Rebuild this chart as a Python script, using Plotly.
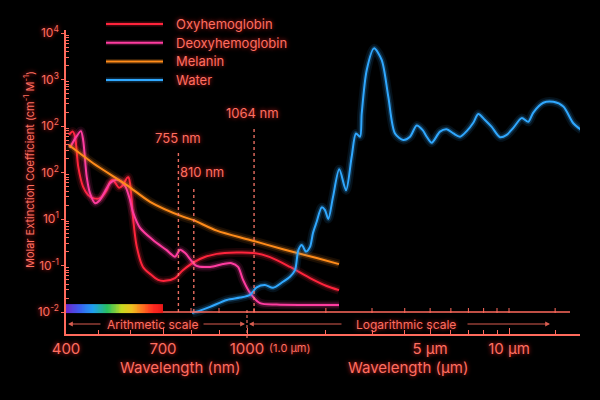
import numpy as np
import plotly.graph_objects as go

# ---------------- data (wavelength in nm, level = position on the decade axis) ----------------
OXY_WL = [409, 421, 428, 438, 453, 468, 484, 505, 526, 536, 545, 557, 564, 576, 588, 593, 598, 603, 607, 619,
          638, 660, 685, 707, 743, 771, 832, 892, 963, 1054, 1224, 1459, 1740, 2014, 2245]
OXY_LV = [3.81, 3.88, 3.77, 3.12, 2.69, 2.52, 2.45, 2.45, 2.62, 2.80, 2.84, 2.73, 2.67, 2.73, 2.88, 2.90, 2.77,
          2.41, 2.05, 1.40, 0.97, 0.82, 0.69, 0.67, 0.73, 0.90, 1.14, 1.25, 1.28, 1.27, 1.18, 0.97, 0.73, 0.56, 0.47]

DEOXY_WL = [412, 431, 446, 453, 464, 474, 490, 505, 521, 536, 552, 567, 583, 598, 607, 629, 669, 713, 743, 761,
            779, 820, 868, 914, 945, 968, 986, 1027, 1121, 1298, 1594, 2245]
DEOXY_LV = [3.53, 3.76, 3.89, 3.70, 2.91, 2.56, 2.34, 2.41, 2.60, 2.77, 2.84, 2.82, 2.71, 2.41, 2.15, 1.81, 1.55,
            1.33, 1.19, 1.34, 1.27, 0.99, 0.97, 1.03, 1.05, 0.97, 0.69, 0.41, 0.19, 0.16, 0.15, 0.15]

MEL_WL = [409, 484, 588, 660, 771, 807, 892, 1027, 1372, 1845, 2245]
MEL_LV = [3.59, 3.20, 2.73, 2.37, 2.05, 1.98, 1.75, 1.55, 1.35, 1.16, 1.03]

WAT_WL = [804, 832, 868, 928, 975, 1027, 1089, 1171, 1257, 1372, 1459, 1525, 1570, 1618, 1680, 1740, 1786, 1845,
          1928, 1985, 2043, 2129, 2250, 2387, 2509, 2606, 2700, 2741, 2863, 3052, 3266, 3462, 3672, 3950, 4190,
          4443, 4684, 4852, 5070, 5452, 5783, 6129, 6501, 6896, 7307, 7634, 8097, 8590, 9240, 9800, 10385, 11180,
          11850, 12380, 13520, 14760, 16120, 17600, 18950]
WAT_LV = [-0.02, 0.03, 0.11, 0.26, 0.31, 0.37, 0.53, 0.58, 0.52, 0.65, 0.76, 0.90, 1.33, 1.44, 1.30, 1.40, 1.70,
          1.94, 2.25, 2.19, 2.00, 2.47, 3.07, 2.62, 3.34, 3.84, 3.77, 4.27, 5.20, 5.67, 5.42, 4.63, 3.84, 3.70,
          3.77, 4.01, 3.91, 3.77, 3.64, 3.88, 3.93, 3.84, 3.77, 3.89, 4.07, 4.26, 4.13, 3.98, 3.76, 3.81, 3.96,
          4.17, 4.09, 4.29, 4.50, 4.52, 4.42, 4.06, 3.91]

SERIES = ["Oxyhemoglobin", "Deoxyhemoglobin", "Melanin", "Water"]
Y_TICK_LABELS = ["10<sup>-2</sup>", "10<sup>-1</sup>", "10<sup>1</sup>", "10<sup>2</sup>", "10<sup>2</sup>",
                 "10<sup>3</sup>", "10<sup>4</sup>"]
X_TICK_WL = [400, 700, 1000, 5000, 10000]
X_TICK_LABELS = ["400", "700", "1000", "5 µm", "10 µm"]
MARKERS_NM = [755, 810, 1064]
MARKER_TOPS = [3.46, 2.69, 3.98]

# ---------------- mixed arithmetic / logarithmic wavelength scale ----------------
def pos(wl):
    wl = np.asarray(wl, dtype=float)
    return np.where(wl <= 700, 66 + (wl - 400) * 97 / 300,
                    np.where(wl <= 1000, 163 + (wl - 700) * 84 / 300,
                             247 + 262 * np.log10(np.maximum(wl, 1) / 1000)))

X0, X1 = 66, 580
Y0, Y1 = -0.473, 6.065
PLOT_H = 304  # px

AX = "#ff6a5c"
TXT = "#ff6e60"
FONT = "Inter"
SHADOW = "0px 0px 4px rgba(255,40,40,0.85)"

COLORS = {"Oxyhemoglobin": (255, 36, 60), "Deoxyhemoglobin": (255, 60, 160),
          "Melanin": (255, 140, 26), "Water": (48, 168, 255)}
DATA = {"Oxyhemoglobin": (OXY_WL, OXY_LV), "Deoxyhemoglobin": (DEOXY_WL, DEOXY_LV),
        "Melanin": (MEL_WL, MEL_LV), "Water": (WAT_WL, WAT_LV)}
GLOW = [(9, 0.10), (5, 0.22)]

fig = go.Figure()

# spectrum strip 400-700 nm
strip_wl = np.linspace(400, 700, 61)
fig.add_trace(go.Heatmap(
    x=pos(strip_wl), y=[-0.02, 0.17], z=[0.5 * (strip_wl[:-1] + strip_wl[1:])],
    colorscale=[[0, "#6a2bd0"], [0.13, "#3b5ef0"], [0.27, "#1fa0f0"], [0.42, "#28c060"],
                [0.57, "#c8d820"], [0.68, "#f0c020"], [0.8, "#ff6a20"], [0.9, "#ff2a20"], [1, "#e81818"]],
    showscale=False, hoverinfo="skip", zsmooth="best"))

# curves with glow
for name in SERIES:
    wl, lv = DATA[name]
    r, g, b = COLORS[name]
    xs = pos(wl)
    for w, a in GLOW:
        fig.add_trace(go.Scatter(x=xs, y=lv, mode="lines", showlegend=False, hoverinfo="skip",
                                 line=dict(color=f"rgba({r},{g},{b},{a})", width=w, shape="spline", smoothing=0.8)))
    fig.add_trace(go.Scatter(x=xs, y=lv, mode="lines", name=name, showlegend=False,
                             line=dict(color=f"rgb({r},{g},{b})", width=2, shape="spline", smoothing=0.8)))

shapes = []
annotations = []

# legend (line samples + labels)
for i, name in enumerate(SERIES):
    r, g, b = COLORS[name]
    yp = (334 - (24 + 18.7 * i)) / PLOT_H
    for w, a in GLOW[1:] + [(2, 1.0)]:
        shapes.append(dict(type="line", xref="x", yref="paper", x0=106, x1=163, y0=yp, y1=yp,
                           line=dict(color=f"rgba({r},{g},{b},{a})", width=w)))
    annotations.append(dict(x=174, y=yp, xref="x", yref="paper", xanchor="left", yanchor="middle", text=name,
                            showarrow=False, font=dict(size=13, color=TXT, family=FONT, shadow=SHADOW)))

# baseline at the 10^-2 level (700 nm onward) with its ticks
base_lo = float(pos(700))
shapes.append(dict(type="line", xref="x", yref="y", x0=base_lo, x1=570, y0=0, y1=0,
                   line=dict(color=AX, width=1.3)))
for t in pos([800, 900, 1064] + [k * 1000 for k in range(2, 11)] + [15000]):
    shapes.append(dict(type="line", xref="x", yref="paper", x0=float(t), x1=float(t),
                       y0=(334 - 313) / PLOT_H, y1=(334 - 308) / PLOT_H, line=dict(color=AX, width=1)))

# laser marker lines
for nm, top in zip(MARKERS_NM, MARKER_TOPS):
    xp = float(pos(nm))
    shapes.append(dict(type="line", xref="x", yref="y", x0=xp, x1=xp, y0=0, y1=top,
                       line=dict(color="rgba(255,120,105,0.9)", width=1.4, dash="3px,3px")))
label_shift = {755: (0, 0.28), 810: (8, 0.32), 1064: (-2, 0.30)}
for nm, top in zip(MARKERS_NM, MARKER_TOPS):
    dx, dy = label_shift[nm]
    annotations.append(dict(x=float(pos(nm)), y=top + dy, xref="x", yref="y", text=f"{nm} nm",
                            showarrow=False, xshift=dx, font=dict(size=13, color=TXT, family=FONT, shadow=SHADOW)))

# separator between scales
sep = float(pos(1000))
shapes.append(dict(type="line", xref="x", yref="paper", x0=sep, x1=sep, y0=-0.013, y1=0.085,
                   line=dict(color="rgba(255,120,105,0.9)", width=1.2, dash="3px,2px")))

# scale arrows
ARW = "rgba(255,110,95,0.85)"
yrow = -0.258
for head, tail in [(68, 102), (245, 202), (249, 343), (550, 466)]:
    annotations.append(dict(x=head, y=yrow, ax=tail, ay=yrow, xref="x", yref="y", axref="x", ayref="y",
                            text="", showarrow=True, arrowhead=2, arrowsize=0.8, arrowwidth=1.2, arrowcolor=ARW))
annotations.append(dict(x=152, y=yrow, xref="x", yref="y", text="Arithmetic scale", showarrow=False,
                        font=dict(size=12, color=TXT, family=FONT, shadow=SHADOW)))
annotations.append(dict(x=406, y=yrow, xref="x", yref="y", text="Logarithmic scale", showarrow=False,
                        font=dict(size=12, color=TXT, family=FONT, shadow=SHADOW)))

# axis titles
ytitle = -(367 - 334) / PLOT_H
annotations.append(dict(x=180, y=ytitle, xref="x", yref="paper", yanchor="middle", text="Wavelength (nm)",
                        showarrow=False, font=dict(size=15, color=TXT, family=FONT, shadow=SHADOW)))
annotations.append(dict(x=408, y=ytitle, xref="x", yref="paper", yanchor="middle", text="Wavelength (µm)",
                        showarrow=False, font=dict(size=15, color=TXT, family=FONT, shadow=SHADOW)))
annotations.append(dict(x=sep + 20, y=-(348 - 334) / PLOT_H, xref="x", yref="paper", yanchor="middle",
                        xanchor="left", text="(1.0 µm)", showarrow=False,
                        font=dict(size=11, color=TXT, family=FONT, shadow=SHADOW)))
annotations.append(dict(x=-(66 - 29) / (X1 - X0), y=(334 - 170) / PLOT_H, xref="paper", yref="paper",
                        xanchor="center", yanchor="middle", textangle=-90,
                        text="Molar Extinction Coefficient (cm<sup>-1</sup> M<sup>-1</sup>)",
                        showarrow=False, font=dict(size=11, color=TXT, family=FONT, shadow=SHADOW)))

minor_x = [500, 600, 800, 900] + [k * 1000 for k in range(2, 10)] + [15000]
minor_y = [i + np.log10(k) for i in range(6) for k in range(2, 10)]

fig.update_layout(
    width=600, height=400,
    paper_bgcolor="black", plot_bgcolor="black",
    margin=dict(l=66, r=20, t=30, b=66),
    font=dict(family=FONT, color=TXT),
    showlegend=False,
    xaxis=dict(range=[X0, X1], showline=True, linecolor=AX, linewidth=1.5, showgrid=False, zeroline=False,
               ticks="inside", ticklen=6, tickwidth=1.2, tickcolor=AX,
               tickvals=pos(X_TICK_WL).tolist(), ticktext=X_TICK_LABELS,
               tickfont=dict(size=15, color=TXT, family=FONT, shadow=SHADOW),
               minor=dict(tickvals=pos(minor_x).tolist(), ticks="inside", ticklen=4, tickcolor=AX, tickwidth=1)),
    yaxis=dict(range=[Y0, Y1], showline=True, linecolor=AX, linewidth=1.5, showgrid=False, zeroline=False,
               ticks="outside", ticklen=3, tickwidth=1.2, tickcolor=AX,
               tickvals=list(range(7)), ticktext=Y_TICK_LABELS,
               tickfont=dict(size=12, color=TXT, family=FONT, shadow=SHADOW),
               minor=dict(tickvals=minor_y, ticks="inside", ticklen=3, tickcolor=AX, tickwidth=1)),
    shapes=shapes,
    annotations=annotations,
)

fig.write_html("out.html")
